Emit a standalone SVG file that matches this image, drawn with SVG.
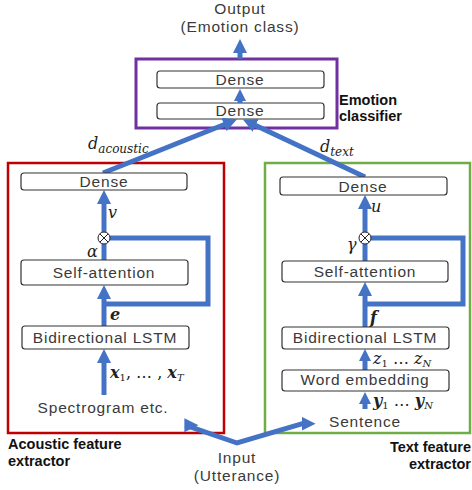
<svg xmlns="http://www.w3.org/2000/svg" width="472" height="490" viewBox="0 0 472 490">
<style>
.t{font-family:"Liberation Sans",Arial,sans-serif;font-size:15.5px;fill:#3a3a3a;letter-spacing:0.8px;text-anchor:middle}
.b{font-family:"Liberation Sans",Arial,sans-serif;font-size:14.5px;font-weight:bold;fill:#111}
.m{font-family:"DejaVu Serif","Liberation Serif",serif;font-style:italic;fill:#222;font-size:16px}
.bi{font-weight:bold}
.box{fill:#fff;stroke:#333;stroke-width:1.2}
.a{fill:none;stroke:#4472C4;stroke-width:5}
.ax{fill:none;stroke:#4472C4;stroke-width:5;marker-end:url(#ah)}
.as{fill:none;stroke:#4472C4;stroke-width:5;marker-end:url(#ahs)}
.ot{fill:#fff;stroke:#222;stroke-width:1}
</style>
<defs>
<marker id="ah" viewBox="0 0 14 14" markerUnits="userSpaceOnUse" markerWidth="14" markerHeight="14" refX="1" refY="7" orient="auto"><path d="M0,0 L14,7 L0,14 z" fill="#4472C4"/></marker>
<marker id="ahs" viewBox="0 0 12 12" markerUnits="userSpaceOnUse" markerWidth="12" markerHeight="12" refX="1" refY="6" orient="auto"><path d="M0,0 L12,6 L0,12 z" fill="#4472C4"/></marker>
</defs>

<g id="output">
<text class="t" x="240" y="14">Output</text>
<text class="t" x="240" y="32">(Emotion class)</text>
</g>

<g id="emotion-classifier">
<rect x="136" y="59" width="201" height="69" fill="none" stroke="#7030A0" stroke-width="3"/>
<text class="b" x="339" y="105">Emotion</text>
<text class="b" x="339" y="121">classifier</text>
</g>
<g id="dense-top"><rect class="box" x="157" y="71" width="167" height="17" rx="3"/><text class="t" x="240" y="85">Dense</text></g>
<g id="dense-mid"><rect class="box" x="157" y="103" width="167" height="16" rx="3"/><text class="t" x="240" y="116">Dense</text></g>

<g id="acoustic-extractor">
<rect x="8" y="163" width="216" height="270" fill="none" stroke="#C00000" stroke-width="2.5"/>
<text class="b" x="8" y="449">Acoustic feature</text>
<text class="b" x="8" y="466">extractor</text>
</g>
<g id="text-extractor">
<rect x="265" y="163" width="205" height="270" fill="none" stroke="#70AD47" stroke-width="2.5"/>
<text class="b" x="471" y="452" text-anchor="end">Text feature</text>
<text class="b" x="471" y="469" text-anchor="end">extractor</text>
</g>

<g id="connectors">
<path class="ax" d="M240,59 V52"/>
<path class="as" d="M240,103 V100"/>
<path class="ax" d="M103,173 L225,124.2"/>
<path class="ax" d="M365,177 L254.7,125"/>
<path class="ax" d="M104,232 V203"/>
<path class="a" d="M104,244 V260"/>
<path class="a" d="M110,238 H208 V304 H104"/>
<path class="ax" d="M104,326 V298"/>
<path class="ax" d="M104,395 V362"/>
<path class="ax" d="M365,232 V208"/>
<path class="a" d="M365,244 V261"/>
<path class="a" d="M371,238 H463 V304 H365"/>
<path class="ax" d="M365,327 V295"/>
<path class="as" d="M365,370 V360"/>
<path class="as" d="M365,409 V403"/>
<path class="a" d="M185.3,425.2 L237,443 L302.5,423.7" stroke-linejoin="miter"/>
<path d="M185.3,425.2 L185.4,425.2" class="ax"/>
<path d="M302.5,423.7 L302.6,423.7" class="ax"/>
</g>

<g id="a-dense"><rect class="box" x="21" y="173" width="166" height="17" rx="3"/><text class="t" x="104" y="187">Dense</text></g>
<g id="a-mult"><circle class="ot" cx="104" cy="238" r="6"/><path d="M99.8,233.8 L108.2,242.2 M108.2,233.8 L99.8,242.2" stroke="#222" stroke-width="1"/></g>
<g id="a-selfatt"><rect class="box" x="21" y="260" width="167" height="25" rx="3"/><text class="t" x="104" y="278">Self-attention</text></g>
<g id="a-lstm"><rect class="box" x="22" y="326" width="167" height="23" rx="3"/><text class="t" x="105" y="343">Bidirectional LSTM</text></g>
<g id="a-spec"><text class="t" x="103" y="413">Spectrogram etc.</text></g>

<g id="t-dense"><rect class="box" x="280" y="177" width="167" height="18" rx="3"/><text class="t" x="363" y="192">Dense</text></g>
<g id="t-mult"><circle class="ot" cx="365" cy="238" r="6"/><path d="M360.8,233.8 L369.2,242.2 M369.2,233.8 L360.8,242.2" stroke="#222" stroke-width="1"/></g>
<g id="t-selfatt"><rect class="box" x="282" y="261" width="166" height="21" rx="3"/><text class="t" x="365" y="277">Self-attention</text></g>
<g id="t-lstm"><rect class="box" x="282" y="327" width="167" height="22" rx="3"/><text class="t" x="365" y="343">Bidirectional LSTM</text></g>
<g id="t-embed"><rect class="box" x="282" y="370" width="167" height="21" rx="3"/><text class="t" x="365" y="385">Word embedding</text></g>
<g id="t-sent"><text class="t" x="365" y="427">Sentence</text></g>

<g id="input">
<text class="t" x="237" y="463">Input</text>
<text class="t" x="237" y="481">(Utterance)</text>
</g>

<g id="labels">
<text class="m" x="88" y="149">d<tspan font-size="12" dy="4">acoustic</tspan></text>
<text class="m" x="320" y="152">d<tspan font-size="12" dy="4">text</tspan></text>
<text class="m" x="108" y="218">v</text>
<text class="m" x="87" y="257">α</text>
<text class="m bi" x="110" y="320">e</text>
<text class="m" x="371" y="212">u</text>
<text class="m" x="347" y="250">γ</text>
<text class="m bi" x="370" y="323">f</text>
<text class="m" x="110" y="378" font-size="14"><tspan class="bi">x</tspan><tspan font-size="10" font-style="normal" dy="3">1</tspan><tspan dy="-3" font-style="normal">, … , </tspan><tspan class="bi">x</tspan><tspan font-size="10" dy="3">T</tspan></text>
<text class="m" x="373" y="364" font-size="14">z<tspan font-size="10" font-style="normal" dy="3">1</tspan><tspan dy="-3" font-style="normal"> … </tspan>z<tspan font-size="10" dy="3">N</tspan></text>
<text class="m" x="373" y="406" font-size="14"><tspan class="bi">y</tspan><tspan font-size="10" font-style="normal" dy="3">1</tspan><tspan dy="-3" font-style="normal"> … </tspan><tspan class="bi">y</tspan><tspan font-size="10" dy="3">N</tspan></text>
</g>
</svg>
